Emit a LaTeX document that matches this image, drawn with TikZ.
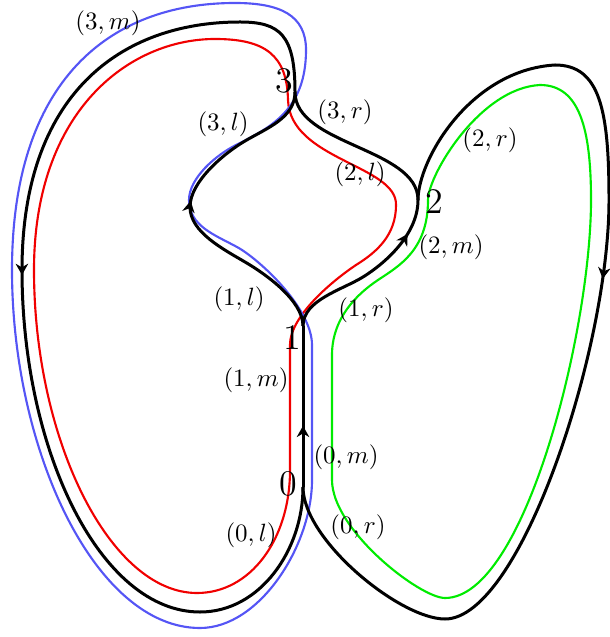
\documentclass[tikz,border=0pt]{standalone}
\usetikzlibrary{arrows.meta,decorations.markings}
\definecolor{loopred}{RGB}{240,0,0}
\definecolor{loopblue}{RGB}{85,85,245}
\definecolor{loopgreen}{RGB}{0,235,0}
\tikzset{
  trackedge/.style={draw=black, line width=1.2pt},
  redcycle/.style={draw=loopred, line width=0.85pt},
  bluecycle/.style={draw=loopblue, line width=0.85pt},
  greencycle/.style={draw=loopgreen, line width=0.85pt},
  midarrow/.style={postaction={decorate},
                   decoration={markings, mark=at position #1 with {\arrow{Stealth[length=4.5pt,width=5pt]}}}},
  vertexlabel/.style={font=\Large, inner sep=0pt},
  edgelabel/.style={inner sep=0pt}
}

\begin{document}
\begin{tikzpicture}[x=0.4pt, y=-0.4pt]
  \useasboundingbox (0,0) rectangle (609,637);

  \coordinate (v0) at (303,487);
  \coordinate (v1) at (303,326);
  \coordinate (v2) at (418,200);
  \coordinate (v3) at (295,92);

  % coloured cycles
  \draw[redcycle] (290,470) -- (290,345)
    .. controls (290,315) and (335,279) .. (356,265)
    .. controls (377,252) and (396,235) .. (396,205)
    .. controls (397,165) and (290,160) .. (288,100)
    .. controls (287,55) and (265,39) .. (215,39)
    .. controls (130,39) and (34,110) .. (34,270)
    .. controls (34,440) and (110,593) .. (197,593)
    .. controls (250,593) and (290,540) .. cycle;
  \draw[bluecycle] (312,480) -- (312,345)
    .. controls (312,308) and (259,259) .. (237,247)
    .. controls (215,235) and (189,226) .. (189,200)
    .. controls (189,178) and (216,155) .. (236,145)
    .. controls (270,128) and (306,110) .. (306,50)
    .. controls (306,15) and (280,3) .. (235,3)
    .. controls (110,3) and (12,80) .. (12,270)
    .. controls (12,450) and (95,628) .. (200,628)
    .. controls (260,628) and (312,545) .. cycle;
  \draw[greencycle] (332,480) -- (332,355)
    .. controls (332,318) and (357,294) .. (378,280)
    .. controls (399,266) and (428,250) .. (428,200)
    .. controls (428,175) and (480,88) .. (540,85)
    .. controls (580,85) and (591,130) .. (591,200)
    .. controls (591,330) and (525,598) .. (445,598)
    .. controls (420,598) and (332,530) .. cycle;

  % train track
  \draw[trackedge, midarrow=0.38] (v0) -- (v1);
  \draw[trackedge, midarrow=0.53] (v1)
    .. controls (303,300) and (264,273) .. (245,262)
    .. controls (223,249) and (190,232) .. (190,207)
    .. controls (190,182) and (223,154) .. (245,141)
    .. controls (267,128) and (295,118) .. (v3);
  \draw[trackedge, midarrow=0.8] (v1)
    .. controls (303,300) and (342,290) .. (363,277)
    .. controls (384,264) and (418,235) .. (v2);
  \draw[trackedge] (v3) .. controls (295,145) and (418,148) .. (v2);
  \draw[trackedge, midarrow=0.45] (v3)
    .. controls (295,35) and (280,22) .. (240,22)
    .. controls (120,22) and (22,95) .. (22,270)
    .. controls (22,450) and (100,612) .. (200,612)
    .. controls (260,612) and (303,550) .. (v0);
  \draw[trackedge, midarrow=0.43] (v2)
    .. controls (418,160) and (470,70) .. (555,65)
    .. controls (600,65) and (609,110) .. (609,200)
    .. controls (609,350) and (520,619) .. (445,619)
    .. controls (400,619) and (303,540) .. (v0);

  % vertex labels
  \node[vertexlabel] (n0) at (288,484) {$0$};
  \node[vertexlabel] (n1) at (292,338) {$1$};
  \node[vertexlabel] (n2) at (434,202) {$2$};
  \node[vertexlabel] (n3) at (284,81) {$3$};

  % edge labels
  \node[edgelabel] (l3m) at (108,23) {$(3,m)$};
  \node[edgelabel] (l3l) at (223,124) {$(3,l)$};
  \node[edgelabel] (l3r) at (345,112) {$(3,r)$};
  \node[edgelabel] (l2l) at (360,174) {$(2,l)$};
  \node[edgelabel] (l2r) at (490,140) {$(2,r)$};
  \node[edgelabel] (l2m) at (451,247) {$(2,m)$};
  \node[edgelabel] (l1l) at (239,299) {$(1,l)$};
  \node[edgelabel] (l1r) at (366,310) {$(1,r)$};
  \node[edgelabel] (l1m) at (256,380) {$(1,m)$};
  \node[edgelabel] (l0m) at (346,457) {$(0,m)$};
  \node[edgelabel] (l0l) at (251,535) {$(0,l)$};
  \node[edgelabel] (l0r) at (358,527) {$(0,r)$};
\end{tikzpicture}
\end{document}
